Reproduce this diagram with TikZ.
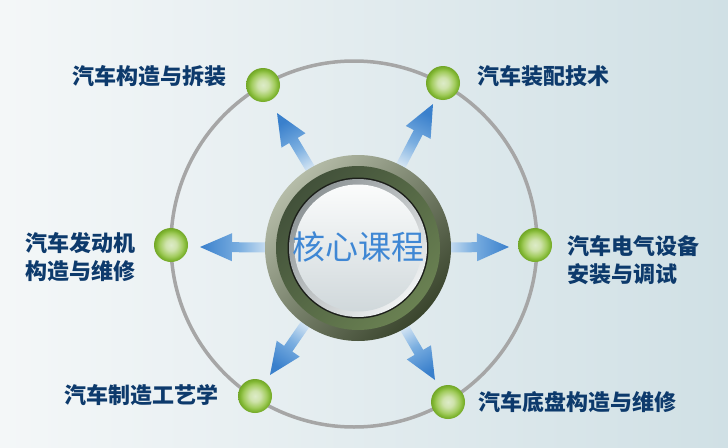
\documentclass[tikz,border=0pt]{standalone}
\usepackage{fontspec}
\newfontfamily\cjk{Noto Sans CJK SC}
\usetikzlibrary{calc}
\definecolor{bgL}{HTML}{F4F7F8}
\definecolor{bgR}{HTML}{D0E0E5}
\definecolor{labc}{HTML}{0D3A6C}
\definecolor{ctext}{HTML}{3F87D4}
\definecolor{arrB}{HTML}{3A80CC}
\definecolor{arrM}{HTML}{7AAEE0}
\definecolor{arrL}{HTML}{EAF2F8}
\definecolor{ringA}{HTML}{B5BCA8}
\definecolor{ringB}{HTML}{3A452D}
\definecolor{ringC}{HTML}{42513A}
\definecolor{ringD}{HTML}{6A8152}
\definecolor{ringLine}{HTML}{1C1F1A}
\definecolor{greyA}{HTML}{8E9597}
\definecolor{greyB}{HTML}{F0F2F3}
\definecolor{discA}{HTML}{FBFCFC}
\definecolor{discB}{HTML}{D0D8DB}
\definecolor{orbit}{HTML}{A6A6A6}
\definecolor{gb1}{HTML}{DDEBC8}
\definecolor{gb2}{HTML}{CFE3AC}
\definecolor{gb3}{HTML}{A2CC5E}
\definecolor{gb4}{HTML}{80B632}
\definecolor{gb5}{HTML}{72A628}
\pgfdeclareradialshading{gball}{\pgfpoint{0bp}{0bp}}{color(0bp)=(gb1); color(8bp)=(gb2); color(17bp)=(gb3); color(22bp)=(gb4); color(25bp)=(gb5); color(50bp)=(gb5)}
\tikzset{
  gnode/.style={circle, minimum size=34pt, inner sep=0pt, shade, shading=gball},
  lab/.style={font=\cjk\bfseries\fontsize{22}{28}\selectfont, text=labc, inner sep=0pt, align=left},
  coretext/.style={font=\cjk\fontsize{33}{33}\selectfont, text=ctext, inner sep=0pt},
}
\newcommand\carrow[2]{%
  \coordinate (S) at ($(C)!80pt!(#1)$);
  \coordinate (H) at ($(#1)!32pt!(C)$);
  \shade[top color=arrB, bottom color=arrL, middle color=arrM, shading angle=#2]
    ($(S)!5pt!90:(#1)$) -- ($(H)!5pt!90:(#1)$) -- ($(H)!14pt!90:(#1)$) -- (#1)
    -- ($(H)!14pt!-90:(#1)$) -- ($(H)!5pt!-90:(#1)$) -- ($(S)!5pt!-90:(#1)$) -- cycle;}
\begin{document}
\begin{tikzpicture}[x=1pt,y=-1pt]
\useasboundingbox (0,0) rectangle (728,447);
\shade[left color=bgL, right color=bgR] (0,0) rectangle (728,447);
% orbit
\coordinate (O) at (354,244);
\draw[orbit, line width=3.5pt] (O) circle[radius=183];
% arrows
\coordinate (C) at (358,248);
\coordinate (t1) at (277,113);
\coordinate (t2) at (433,104);
\coordinate (t3) at (200,247);
\coordinate (t4) at (509,247);
\coordinate (t5) at (270,375);
\coordinate (t6) at (435,380);
\carrow{t1}{31}
\carrow{t2}{-27.5}
\carrow{t3}{90}
\carrow{t4}{-90}
\carrow{t5}{145.3}
\carrow{t6}{-149.7}
% core ring
\shade[top color=ringA, bottom color=ringB, shading angle=45] (C) circle[radius=93];
\shade[top color=ringC, bottom color=ringD, shading angle=45] (C) circle[radius=82];
\fill[ringLine] (C) circle[radius=70.5];
\shade[top color=greyA, bottom color=greyB, shading angle=45] (C) circle[radius=69];
\shade[top color=discA, bottom color=discB] (C) circle[radius=63.5];
\node[coretext] (core) at (358,247) {核心课程};
% green nodes
\node[gnode] (n1) at (263,85) {};
\node[gnode] (n2) at (443,83) {};
\node[gnode] (n3) at (171,245) {};
\node[gnode] (n4) at (535,245) {};
\node[gnode] (n5) at (255,396) {};
\node[gnode] (n6) at (448,402) {};
% labels
\node[lab, anchor=east] (l1) at (227,76) {汽车构造与拆装};
\node[lab, anchor=west] (l2) at (477,76) {汽车装配技术};
\node[lab, anchor=west] (l3) at (25,257.5) {汽车发动机\\构造与维修};
\node[lab, anchor=west] (l4) at (567,260) {汽车电气设备\\安装与调试};
\node[lab, anchor=east] (l5) at (219,395) {汽车制造工艺学};
\node[lab, anchor=west] (l6) at (478,402) {汽车底盘构造与维修};
\end{tikzpicture}
\end{document}
